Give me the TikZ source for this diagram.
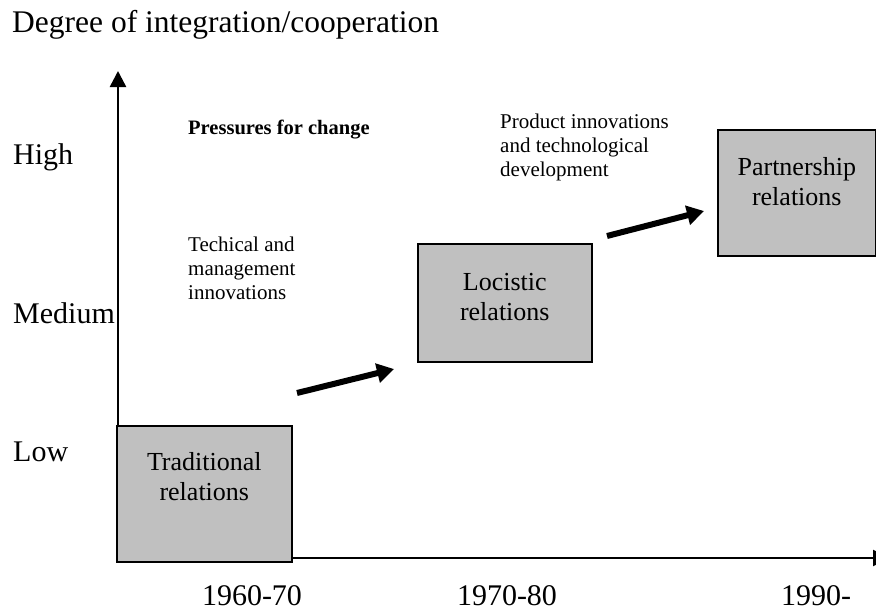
\documentclass[tikz,border=0pt]{standalone}
\usepackage{fontspec}
\setmainfont{Liberation Serif}
\usetikzlibrary{arrows.meta,positioning}
\definecolor{boxgray}{HTML}{C0C0C0}

\begin{document}
\begin{tikzpicture}[x=1pt,y=-1pt,
    level/.style={anchor=west,inner sep=0pt,font=\fontsize{30}{36}\selectfont},
    year/.style={inner sep=0pt,font=\fontsize{30}{36}\selectfont},
    stage/.style={draw,line width=1.6pt,fill=boxgray,anchor=north west,inner sep=0pt},
    stagetxt/.style={anchor=north,inner sep=0pt,align=center,font=\fontsize{26}{30}\selectfont},
    force/.style={anchor=north west,inner sep=0pt,align=left,font=\fontsize{21}{24}\selectfont},
    axis/.style={-{Triangle[length=16pt,width=16pt]},line width=2.5pt},
    push/.style={-{Triangle[length=17pt,width=19pt]},line width=6pt}]
  \useasboundingbox (0,0) rectangle (876,611);
  % axes
  \coordinate (orig) at (118,558);
  \coordinate (ytop) at (118,71);
  \coordinate (xend) at (889,558);
  \draw[axis] (orig) -- (ytop);
  \draw[axis] (orig) -- (xend);
  \node[level,font=\fontsize{31.5}{36}\selectfont] (title) at (12,25) {Degree of integration/cooperation};
  \node[level] (hi) at (13,157) {High};
  \node[level] (med) at (13,313) {Medium};
  \node[level] (lo) at (13,452) {Low};
  \node[year] (y1) at (252,596) {1960-70};
  \node[year] (y2) at (507,596) {1970-80};
  \node[year] (y3) at (816,596) {1990-};
  % stages
  \node[stage,minimum width=175pt,minimum height=136pt] (trad) at (116,425) {};
  \node[stage,minimum width=174pt,minimum height=118pt] (logi) at (417,243) {};
  \node[stage,minimum width=158pt,minimum height=126pt] (part) at (717,129) {};
  \node[stagetxt] (tradtxt) at ([yshift=-27pt]trad.north) {Traditional\\relations};
  \node[stagetxt] (logitxt) at ([yshift=-30pt]logi.north) {Locistic\\relations};
  \node[stagetxt] (parttxt) at ([yshift=-28pt]part.north) {Partnership\\relations};
  % pressures
  \node[anchor=base west,inner sep=0pt,font=\bfseries\fontsize{20.5}{24}\selectfont] (press) at (188,134) {Pressures for change};
  \node[force] (tech) at (188,237) {Techical and\\management\\innovations};
  \node[force] (prod) at (500,114) {Product innovations\\and technological\\development};
  \coordinate (a1s) at (297,393);
  \coordinate (a1e) at (394,369);
  \coordinate (a2s) at (607,236);
  \coordinate (a2e) at (704,211);
  \draw[push] (a1s) -- (a1e);
  \draw[push] (a2s) -- (a2e);
\end{tikzpicture}
\end{document}
